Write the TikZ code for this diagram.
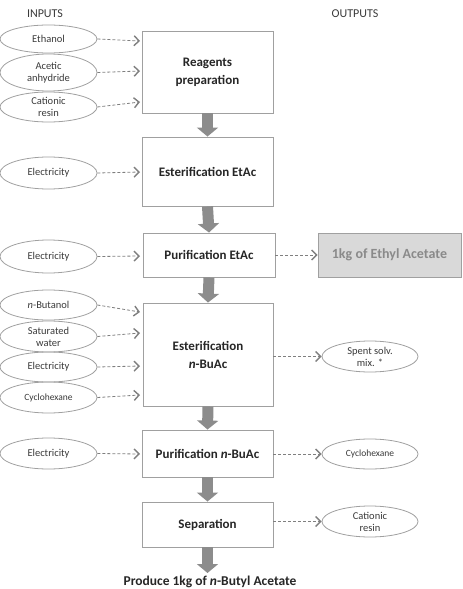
\documentclass[tikz,border=0pt]{standalone}
\usepackage{fontspec}
\setmainfont{Carlito}
\usetikzlibrary{shapes.geometric,arrows.meta}
\definecolor{boxgray}{HTML}{A0A0A0}
\definecolor{arrowgray}{HTML}{8C8C8C}
\definecolor{dashgray}{HTML}{7F7F7F}
\definecolor{textdark}{HTML}{262626}
\definecolor{textgray}{HTML}{3A3A3A}
\definecolor{outfill}{HTML}{D9D9D9}
\definecolor{outtext}{HTML}{8A8A8A}
\begin{document}
\begin{tikzpicture}[x=1pt,y=-1pt,
  stepbox/.style={draw=boxgray, line width=0.9pt, fill=white, inner sep=0pt,
    minimum width=131pt, align=center, text=textdark,
    font=\fontsize{13}{18}\selectfont\bfseries},
  oval/.style={ellipse, draw=boxgray, line width=0.8pt, inner sep=0pt,
    minimum width=97pt, align=center, text=textgray,
    font=\fontsize{10.5}{12}\selectfont},
  flow/.style={arrowgray, line width=11pt, -{Triangle[width=21pt,length=9pt]}},
  feed/.style={dashgray, line width=0.8pt, dash pattern=on 3pt off 2pt,
    -{Straight Barb[length=5pt,width=10pt,line width=1.4pt]}},
  header/.style={text=textgray, font=\fontsize{12}{14}\selectfont}
]
\useasboundingbox (0,0) rectangle (463,589);

% headers
\node[header] (hin) at (45,14) {INPUTS};
\node[header] (hout) at (355,14) {OUTPUTS};

% process boxes
\node[stepbox, minimum height=82pt] (b1) at (207.5,72) {Reagents\\preparation};
\node[stepbox, minimum height=69pt] (b2) at (207.5,171.5) {Esterification EtAc};
\node[stepbox, minimum height=44pt, minimum width=132pt] (b3) at (209,255) {Purification EtAc};
\node[stepbox, minimum height=103pt, minimum width=130pt] (b4) at (208,354.5) {Esterification\\\textit{n}-BuAc};
\node[stepbox, minimum height=47pt] (b5) at (207.5,453.5) {Purification \textit{n}-BuAc};
\node[stepbox, minimum height=45pt] (b6) at (207.5,524.5) {Separation};

% output product box
\node[draw=boxgray, line width=0.9pt, fill=outfill, minimum width=143pt, minimum height=44pt,
  inner sep=0pt, text=outtext, font=\fontsize{14}{16}\selectfont\bfseries] (p1) at (389.5,255) {1kg of Ethyl Acetate};

% bottom product
\node[anchor=base, text=textdark, font=\fontsize{13.5}{16}\selectfont\bfseries] (p2) at (210,585) {Produce 1kg of \textit{n}-Butyl Acetate};

% thick flow arrows
\draw[flow] (b1.south) -- (b2.north);
\draw[flow] (b2.south) -- (b3.north);
\draw[flow] (b3.south) -- (b4.north);
\draw[flow] (b4.south) -- (b5.north);
\draw[flow] (b5.south) -- (b6.north);
\coordinate (pend) at (207.5,573);
\draw[flow] (b6.south) -- (pend);

% input ellipses
\node[oval, minimum height=28pt] (e1) at (48.5,39) {Ethanol};
\node[oval, minimum height=37pt] (e2) at (48.5,72.5) {Acetic\\anhydride};
\node[oval, minimum height=30pt] (e3) at (48.5,107) {Cationic\\resin};
\node[oval, minimum height=32pt] (e4) at (48.5,173) {Electricity};
\node[oval, minimum height=33pt] (e5) at (48.5,256.5) {Electricity};
\node[oval, minimum height=30pt] (e6) at (48.5,305) {\textit{n}-Butanol};
\node[oval, minimum height=31pt] (e7) at (48.5,336.5) {Saturated\\water};
\node[oval, minimum height=30pt] (e8) at (48.5,367) {Electricity};
\node[oval, minimum height=31pt, font=\fontsize{9.5}{11}\selectfont] (e9) at (48.5,397.5) {Cyclohexane};
\node[oval, minimum height=31pt] (e10) at (48.5,453.5) {Electricity};

% output ellipses
\node[oval, minimum width=96pt, minimum height=31pt] (o1) at (370,356.5) {Spent solv.\\mix. *};
\node[oval, minimum width=96pt, minimum height=30pt, font=\fontsize{9.5}{11}\selectfont] (o2) at (370,454) {Cyclohexane};
\node[oval, minimum width=96pt, minimum height=31pt] (o3) at (370,521.5) {Cationic\\resin};

% input arrow targets
\coordinate (t1) at (140,41);
\coordinate (t2) at (140,71);
\coordinate (t3) at (140,102);
\coordinate (t4) at (140,172);
\coordinate (t5) at (140,256);
\coordinate (t6) at (140,312);
\coordinate (t7) at (140,333);
\coordinate (t8) at (140,366);
\coordinate (t9) at (140,395);
\coordinate (t10) at (140,454);

\draw[feed] (e1.east) -- (t1);
\draw[feed] (e2.east) -- (t2);
\draw[feed] (e3.east) -- (t3);
\draw[feed] (e4.east) -- (t4);
\draw[feed] (e5.east) -- (t5);
\draw[feed] (e6.east) -- (t6);
\draw[feed] (e7.east) -- (t7);
\draw[feed] (e8.east) -- (t8);
\draw[feed] (e9.east) -- (t9);
\draw[feed] (e10.east) -- (t10);

% output arrows
\draw[feed] (b3.east) -- (p1.west);
\draw[feed] (b4.east |- o1.west) -- (o1.west);
\draw[feed] (b5.east |- o2.west) -- (o2.west);
\draw[feed] (b6.east |- o3.west) -- (o3.west);
\end{tikzpicture}
\end{document}
